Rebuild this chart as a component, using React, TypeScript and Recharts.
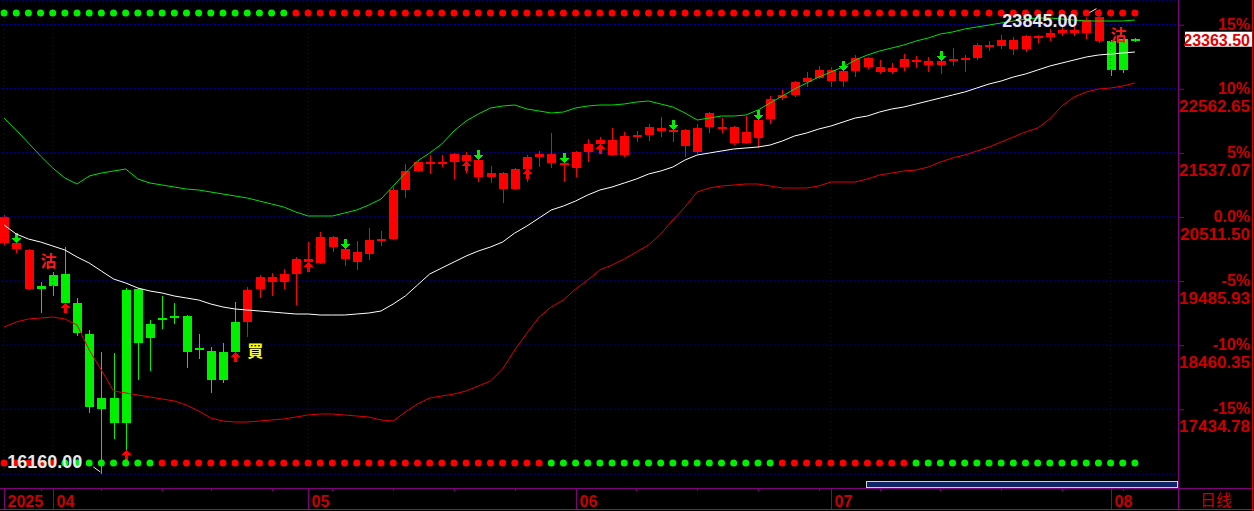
import React from 'react';
import {
  ComposedChart,
  Bar,
  Line,
  XAxis,
  YAxis,
  CartesianGrid,
  ReferenceLine,
  ReferenceDot,
} from 'recharts';

// trading days on the daily chart
const marDays = [26, 27, 28, 31];
const aprDays = [1, 2, 3, 4, 7, 8, 9, 10, 11, 14, 15, 16, 17, 21, 22, 23, 24, 25, 28, 29, 30];
const mayDays = [1, 2, 5, 6, 7, 8, 9, 12, 13, 14, 15, 16, 19, 20, 21, 22, 23, 26, 27, 28, 29, 30];
const junDays = [2, 3, 4, 5, 6, 9, 10, 11, 12, 13, 16, 17, 18, 19, 20, 23, 24, 25, 26, 27, 30];
const julDays = [1, 2, 3, 4, 7, 8, 9, 10, 11, 14, 15, 16, 17, 18, 21, 22, 23, 24, 25, 28, 29, 30, 31];
const augDays = [1, 4, 5];

const opens = [
  20511, 20095, 19983, 19359, 19407, 19599, 19135, 18639, 17439, 17615,
  17215, 19359, 18575, 18879, 18895, 18927, 18399, 18367, 17903, 18351,
  18831, 19359, 19471, 19471, 19599, 19791, 19775, 20191, 19999, 19791,
  19919, 20127, 20159, 20943, 21247, 21359, 21375, 21391, 21503, 21423,
  21151, 21215, 20959, 21279, 21471, 21519, 21375, 21295, 21551, 21679,
  21743, 21503, 21807, 21823, 21935, 21887, 21903, 21551, 21951, 21951,
  21951, 21695, 21775, 22079, 22415, 22463, 22671, 22735, 22863, 22687,
  22847, 23055, 22911, 22831, 22911, 23023, 23007, 22943, 23007, 23039,
  23055, 23263, 23247, 23343, 23199, 23391, 23391, 23455, 23503, 23455,
  23711, 23327, 22863, 23359,
];
const highs = [
  20543, 20111, 19999, 19471, 19631, 20031, 19215, 18703, 18351, 18335,
  19375, 19375, 18863, 19247, 19135, 18943, 18639, 18431, 18495, 19151,
  19391, 19583, 19615, 19679, 19871, 20111, 20271, 20207, 20015, 20127,
  20335, 20287, 20991, 21359, 21407, 21503, 21503, 21535, 21551, 21439,
  21327, 21231, 21295, 21503, 21567, 21855, 21471, 21567, 21759, 21791,
  21935, 21871, 21887, 21999, 22111, 21919, 21919, 21999, 22191, 22095,
  21967, 22127, 22079, 22447, 22543, 22687, 22831, 22927, 22911, 22911,
  23103, 23071, 23023, 22975, 23119, 23087, 23071, 23023, 23215, 23103,
  23295, 23327, 23423, 23391, 23423, 23423, 23519, 23567, 23583, 23695,
  23845, 23343, 23375, 23375,
];
const lows = [
  20063, 19935, 19343, 18975, 19247, 19119, 18607, 17375, 16160, 16959,
  16783, 17903, 18047, 18719, 18799, 18095, 18239, 17695, 17855, 18335,
  18591, 19215, 19247, 19359, 19103, 19679, 19759, 19951, 19727, 19663,
  19823, 20047, 20143, 20815, 21231, 21199, 21311, 21119, 21215, 21071,
  21055, 20735, 20943, 21071, 21311, 21295, 21071, 21151, 21391, 21567,
  21487, 21471, 21711, 21727, 21791, 21711, 21471, 21519, 21855, 21855,
  21663, 21679, 21615, 21999, 22383, 22431, 22591, 22719, 22591, 22591,
  22751, 22879, 22799, 22799, 22847, 22895, 22831, 22799, 22927, 22831,
  23023, 23167, 23199, 23103, 23151, 23295, 23327, 23407, 23407, 23359,
  23295, 22767, 22815, 23311,
];
const closes = [
  20095, 19999, 19359, 19407, 19583, 19135, 18655, 17471, 17615, 17215,
  19343, 18495, 18799, 18895, 18927, 18351, 18415, 17903, 18351, 18831,
  19343, 19551, 19551, 19599, 19839, 19839, 20191, 20031, 19839, 19951,
  20143, 20159, 20943, 21247, 21391, 21391, 21391, 21519, 21407, 21151,
  21215, 20959, 21279, 21471, 21519, 21375, 21343, 21551, 21679, 21743,
  21503, 21807, 21823, 21951, 21887, 21903, 21647, 21935, 22175, 21919,
  21695, 21871, 22063, 22399, 22463, 22671, 22735, 22863, 22687, 22847,
  23055, 22911, 22831, 22895, 23039, 23007, 22943, 23007, 23039, 23055,
  23263, 23231, 23343, 23199, 23407, 23407, 23455, 23503, 23455, 23663,
  23327, 22863, 23359, 23363.5,
];

// bollinger bands (20)
const midBand = [
  20383, 20239, 20159, 20111, 20047, 19983, 19871, 19775, 19647, 19519,
  19455, 19375, 19327, 19295, 19247, 19215, 19183, 19119, 19071, 19039,
  19023, 19007, 18991, 18975, 18959, 18959, 18943, 18943, 18943, 18959,
  18975, 19007, 19119, 19247, 19423, 19599, 19695, 19791, 19887, 19967,
  20031, 20111, 20255, 20367, 20495, 20623, 20687, 20767, 20863, 20943,
  20991, 21055, 21119, 21199, 21247, 21311, 21423, 21503, 21535, 21567,
  21599, 21615, 21631, 21663, 21727, 21807, 21855, 21919, 21967, 22031,
  22095, 22127, 22191, 22239, 22271, 22319, 22367, 22415, 22463, 22511,
  22575, 22639, 22687, 22751, 22799, 22863, 22927, 22975, 23023, 23071,
  23103, 23119, 23135, 23151,
];
const upperBand = [
  22095, 21903, 21695, 21487, 21295, 21135, 21039, 21167, 21215, 21247,
  21279, 21119, 21055, 21023, 20991, 20959, 20943, 20911, 20879, 20847,
  20815, 20767, 20719, 20671, 20591, 20527, 20527, 20527, 20575, 20623,
  20703, 20799, 21007, 21215, 21407, 21535, 21679, 21887, 22047, 22159,
  22255, 22287, 22303, 22239, 22207, 22175, 22191, 22255, 22287, 22303,
  22303, 22319, 22351, 22367, 22319, 22271, 22175, 22063, 22095, 22127,
  22127, 22143, 22223, 22335, 22447, 22559, 22655, 22751, 22831, 22911,
  23023, 23103, 23167, 23215, 23263, 23327, 23375, 23439, 23471, 23519,
  23551, 23583, 23615, 23647, 23679, 23695, 23695, 23679, 23663, 23647,
  23647, 23647, 23647, 23663,
];
const lowerBand = [
  18751, 18831, 18879, 18895, 18911, 18879, 18783, 18383, 18063, 17727,
  17695, 17663, 17631, 17599, 17567, 17503, 17407, 17295, 17247, 17231,
  17231, 17247, 17263, 17279, 17311, 17343, 17359, 17359, 17343, 17327,
  17311, 17263, 17247, 17391, 17519, 17615, 17647, 17679, 17727, 17807,
  17887, 18079, 18383, 18655, 18911, 19071, 19183, 19359, 19503, 19663,
  19743, 19839, 19951, 20063, 20239, 20463, 20671, 20911, 20975, 21007,
  21023, 21039, 21039, 21007, 20975, 20975, 20975, 21007, 21071, 21071,
  21071, 21119, 21183, 21215, 21247, 21263, 21311, 21391, 21455, 21503,
  21567, 21631, 21711, 21791, 21871, 21935, 22079, 22287, 22431, 22511,
  22559, 22575, 22607, 22655,
];

// R = red, G = green, one letter per bar
const candleTone = 'RRRGGGGGGG GGGGGGGGGG RRRRRRRRRR RRRRRRRRRR RRRRRRRRRR RRRRRRRRRR RRRRRRRRRR RRRRRRRRRR RRRRRRRRRR RGGG'.replace(/ /g, '');
const topDotTone = 'GGGGGGGGGG GGGGGGGGGG GGGGRRRRRR RRRRRRRRRR RRRRRRRRRR RRRRRRRRRR RRRRRRRRRR RRRRRRRRRR RRRRRRRRRR RRRR'.replace(/ /g, '');
const bottomDotTone = 'RRRRRGGGGG GGGRRRRRRR RRRRRRRRRR RRRRRRRRRR RRRRRGGGGG GGGGGGGGGG GGGGRRRRRR RRRRRGGGGG GGGGGGGGGG GGGG'.replace(/ /g, '');

// signal bars (1-based)
const sellBars = [2, 29, 40, 47, 56, 63, 70, 78];
const buyBars = [6, 20, 26, 39, 44, 50];
const buyAtLowBars = [11];

const notes = [
  { bar: 4, price: 19823, text: '沽', color: '#ff1a1a' },
  { bar: 21, price: 18391, text: '買', color: '#ffff00' },
  { bar: 92, price: 23447, text: '沽', color: '#ff1a1a' },
];

const BASE = 20511.5;
const priceTicks = [17434.78, 18460.35, 19485.93, 20511.5, 21537.07, 22562.65, 23588.23];
const Y_MIN = 16399;
const Y_MAX = 23983;
const TOP_ROW = 23775;
const BOTTOM_ROW = 16575;

const RED = '#ff0000';
const GREEN = '#00f000';
const AXIS_RED = '#c80000';
const PURPLE = '#800080';
const GRID = '#0000d8';
const FONT = '"Liberation Sans", Arial, sans-serif';
const CJK = '"Noto Sans CJK TC", "Noto Sans CJK SC", sans-serif';

const monthList: [string, number[]][] = [
  ['03', marDays], ['04', aprDays], ['05', mayDays], ['06', junDays], ['07', julDays], ['08', augDays],
];
const dates = monthList.flatMap(([m, days]) => days.map((d) => `2025-${m}-${String(d).padStart(2, '0')}`));

const monthLabel = new Map<string, string>();
monthList.forEach(([m, days], i) => {
  monthLabel.set(`2025-${m}-${String(days[0]).padStart(2, '0')}`, i === 0 ? '2025' : m);
});
const mondays = dates.filter((d) => new Date(d + 'T00:00:00Z').getUTCDay() === 1);
const axisTicks = dates.filter((d) => monthLabel.has(d) || mondays.includes(d));

const rows = dates.map((date, i) => ({
  date,
  open: opens[i],
  high: highs[i],
  low: lows[i],
  close: closes[i],
  range: [lows[i], highs[i]],
  mid: midBand[i],
  upper: upperBand[i],
  lower: lowerBand[i],
  tone: candleTone[i],
  topTone: topDotTone[i],
  botTone: bottomDotTone[i],
  topRow: TOP_ROW,
  botRow: BOTTOM_ROW,
  sell: sellBars.includes(i + 1),
  buy: buyBars.includes(i + 1),
  buyAtLow: buyAtLowBars.includes(i + 1),
}));

const highIdx = highs.indexOf(Math.max(...highs));
const lowIdx = lows.indexOf(Math.min(...lows));
const lastClose = closes[closes.length - 1];

const Candle = (props: any) => {
  const { x, y, width, height, payload } = props;
  const { open, close, high, low, tone, sell, buy, buyAtLow } = payload;
  const k = height / (high - low);
  const py = (v: number) => y + (high - v) * k;
  const cx = Math.round(x + width / 2);
  const color = tone === 'R' ? RED : GREEN;
  const hiY = Math.round(py(high));
  const loY = Math.round(py(low));
  const top = Math.round(py(Math.max(open, close)));
  let bot = Math.round(py(Math.min(open, close)));
  if (bot - top < 2) bot = top + 2;
  const a = buyAtLow ? loY : bot;
  return (
    <g shapeRendering="crispEdges">
      <rect x={cx} y={hiY} width={1} height={Math.max(loY - hiY, 1)} fill={color} />
      <rect x={cx - 4} y={top} width={9} height={bot - top} fill={color} />
      {sell && (
        <g fill={GREEN}>
          <rect x={cx - 1} y={top - 10} width={3} height={5} />
          <polygon points={`${cx - 4},${top - 5} ${cx + 5},${top - 5} ${cx + 0.5},${top}`} />
        </g>
      )}
      {(buy || buyAtLow) && (
        <g fill={RED}>
          <polygon points={`${cx + 0.5},${a} ${cx - 4},${a + 5} ${cx + 5},${a + 5}`} />
          <rect x={cx - 1} y={a + 5} width={3} height={5} />
        </g>
      )}
    </g>
  );
};

const TopDot = (p: any) => (
  <circle key={`t${p.index}`} cx={p.cx} cy={p.cy} r={3.5} fill={p.payload.topTone === 'R' ? RED : GREEN} />
);
const BottomDot = (p: any) => (
  <circle key={`b${p.index}`} cx={p.cx} cy={p.cy} r={3.5} fill={p.payload.botTone === 'R' ? RED : GREEN} />
);

const PriceTick = (props: any) => {
  const { x, y, payload } = props;
  const v = payload.value as number;
  const pct = Math.round((v / BASE - 1) * 100);
  // the price line under the last-price box is hidden by it
  const covered = Math.abs(v - lastClose) < 300;
  return (
    <g>
      <line x1={x} y1={y + 0.5} x2={x + 6} y2={y + 0.5} stroke={PURPLE} />
      <text x={x + 72} y={y + 5} textAnchor="end" fill={AXIS_RED} fontSize={16} fontWeight="bold" fontFamily={FONT}>
        {pct === 0 ? '0.0%' : `${pct}%`}
      </text>
      {!covered && (
        <text x={x + 72} y={y + 23} textAnchor="end" fill={AXIS_RED} fontSize={17} fontWeight="bold" fontFamily={FONT}>
          {v.toFixed(2)}
        </text>
      )}
    </g>
  );
};

const DateTick = (props: any) => {
  const { x, y, payload } = props;
  const lx = Math.round(x) + 0.5;
  const label = monthLabel.get(payload.value);
  if (label === undefined) {
    return <line x1={lx} y1={y + 14} x2={lx} y2={y + 17} stroke={PURPLE} />;
  }
  return (
    <g>
      <line x1={lx} y1={y + 14} x2={lx} y2={y + 35} stroke={PURPLE} />
      <text x={lx + 3} y={y + 33} fill={AXIS_RED} fontSize={16} fontWeight="bold" fontFamily={FONT}>
        {label}
      </text>
    </g>
  );
};

const HighNote = (p: any) => (
  <g>
    <line x1={p.cx - 9} y1={p.cy + 4} x2={p.cx - 2} y2={p.cy} stroke="#e8e8e8" />
    <text x={p.cx - 21} y={p.cy + 18} textAnchor="end" fill="#e8e8e8" fontSize={18} fontWeight="bold" fontFamily={FONT}>
      {highs[highIdx].toFixed(2)}
    </text>
  </g>
);

const LowNote = (p: any) => (
  <g>
    <line x1={p.cx - 8} y1={p.cy - 22} x2={p.cx - 1} y2={p.cy - 17} stroke="#e8e8e8" />
    <text x={p.cx - 19} y={p.cy - 21} textAnchor="end" fill="#e8e8e8" fontSize={18} fontWeight="bold" fontFamily={FONT}>
      {lows[lowIdx].toFixed(2)}
    </text>
  </g>
);

const PriceBox = (p: any) => {
  const vb = p.viewBox;
  const right = vb.x + vb.width;
  const ly = vb.y;
  return (
    <g>
      <rect x={right + 7} y={ly - 7} width={67} height={15} fill="#ffffff" />
      <text x={right + 72} y={ly + 7} textAnchor="end" fill="#e00000" fontSize={16} fontWeight="bold" fontFamily={FONT}>
        {lastClose.toFixed(2)}
      </text>
    </g>
  );
};

export default function App() {
  return (
    <div style={{ position: 'absolute', left: 0, top: 0, width: 1254, height: 511, background: '#000', overflow: 'hidden' }}>
      <ComposedChart width={1254} height={511} data={rows} margin={{ top: 0, right: 0, bottom: 0, left: -2 }}>
        <CartesianGrid vertical={false} stroke={GRID} strokeDasharray="1 3" />
        <XAxis
          dataKey="date"
          ticks={axisTicks}
          interval={0}
          tick={<DateTick />}
          tickLine={false}
          axisLine={false}
          tickSize={0}
          tickMargin={0}
          height={37}
          padding={{ left: 0, right: 37 }}
        />
        <YAxis
          orientation="right"
          domain={[Y_MIN, Y_MAX]}
          allowDataOverflow
          ticks={priceTicks}
          interval={0}
          tick={<PriceTick />}
          tickLine={false}
          axisLine={false}
          tickSize={0}
          tickMargin={0}
          width={76}
        />
        {dates.filter((d) => monthLabel.has(d)).map((d) => (
          <ReferenceLine key={d} x={d} stroke={GRID} strokeDasharray="1 3" />
        ))}
        <Bar dataKey="range" shape={<Candle />} isAnimationActive={false} />
        <Line dataKey="mid" stroke="#ffffff" strokeWidth={1} dot={false} activeDot={false} isAnimationActive={false} />
        <Line dataKey="upper" stroke="#00e000" strokeWidth={1} dot={false} activeDot={false} isAnimationActive={false} />
        <Line dataKey="lower" stroke="#e00000" strokeWidth={1} dot={false} activeDot={false} isAnimationActive={false} />
        <Line dataKey="topRow" stroke="none" dot={TopDot} activeDot={false} isAnimationActive={false} />
        <Line dataKey="botRow" stroke="none" dot={BottomDot} activeDot={false} isAnimationActive={false} />
        {notes.map((n) => (
          <ReferenceDot
            key={`${n.bar}`}
            x={dates[n.bar - 1]}
            y={n.price}
            r={0}
            ifOverflow="visible"
            shape={(p: any) => (
              <text x={p.cx} y={p.cy + 7} fill={n.color} fontSize={16} fontWeight="bold" fontFamily={CJK}>
                {n.text}
              </text>
            )}
          />
        ))}
        <ReferenceDot x={dates[highIdx]} y={highs[highIdx]} r={0} ifOverflow="visible" shape={HighNote} />
        <ReferenceDot x={dates[lowIdx]} y={lows[lowIdx]} r={0} ifOverflow="visible" shape={LowNote} />
        <ReferenceLine y={lastClose} stroke="none" label={(p: any) => <PriceBox {...p} />} />
      </ComposedChart>
      <div style={{ position: 'absolute', left: 866, top: 481, width: 310, height: 5, background: '#102468', border: '1px solid #d0d0d0' }} />
      <div style={{ position: 'absolute', left: 0, top: 488, width: 1252, height: 1, background: PURPLE }} />
      <div style={{ position: 'absolute', left: 1178, top: 0, width: 1, height: 509, background: PURPLE }} />
      <div style={{ position: 'absolute', left: 0, top: 509, width: 1254, height: 1, background: '#e00000' }} />
      <div style={{ position: 'absolute', left: 1252, top: 0, width: 1, height: 511, background: '#e00000' }} />
      <div style={{ position: 'absolute', left: 1200, top: 490, color: AXIS_RED, fontSize: 16, lineHeight: '18px', fontFamily: CJK }}>
        日线
      </div>
    </div>
  );
}
